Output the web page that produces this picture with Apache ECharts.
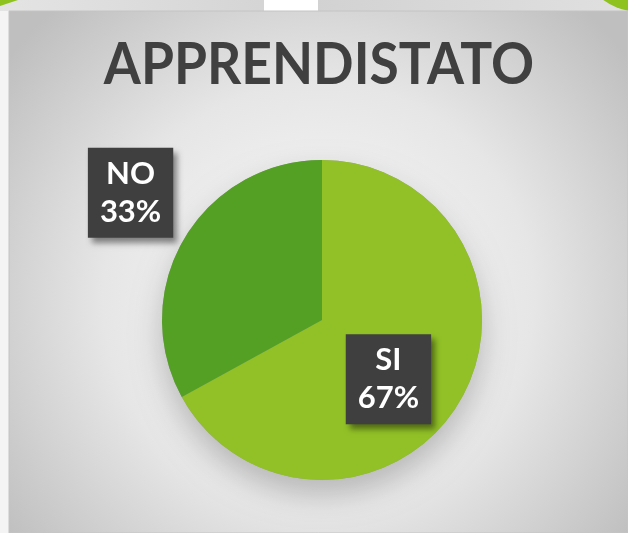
<!DOCTYPE html>
<html>
<head>
<meta charset="utf-8">
<script src="https://cdn.jsdelivr.net/npm/echarts@6/dist/echarts.min.js"></script>
<style>
  html, body { margin: 0; padding: 0; background: #f2f2f2; }
  #chart { width: 628px; height: 533px; }
</style>
</head>
<body>
<div id="chart"></div>
<script>
// dati del grafico
const titleText = "APPRENDISTATO";
const categories = ["SI", "NO"];
const values = [67, 33];
const sliceColors = ["#91C126", "#53A024"];

const labelOffsets = [[-5, 17], [-120, -85]];
const pieCenter = [322, 320];
const pieRadius = 160;

const myChart = echarts.init(document.getElementById("chart"));

const option = {
  animation: false,
  graphic: [
    // striscia superiore
    {
      type: "rect",
      shape: { x: 0, y: 0, width: 628, height: 11 },
      style: {
        fill: new echarts.graphic.LinearGradient(0, 0, 1, 0, [
          { offset: 0, color: "#e4e4e4" },
          { offset: 0.5, color: "#d2d2d2" },
          { offset: 1, color: "#e0e0e0" }
        ])
      },
      z: -10
    },
    { type: "rect", shape: { x: 264, y: 0, width: 54, height: 11 }, style: { fill: "#ffffff" }, z: -9 },
    // bordo sinistro
    { type: "rect", shape: { x: 0, y: 11, width: 9, height: 522 }, style: { fill: "#f4f4f4" }, z: -10 },
    // angoli verdi
    { type: "polygon", shape: { points: [[0, 0], [18, 0], [0, 6]] }, style: { fill: "#8DC21F" }, z: -8 },
    { type: "circle", shape: { cx: 640, cy: -50, r: 62 }, style: { fill: "#8DC21F" }, z: -8 },
    // pannello con sfumatura radiale
    {
      type: "rect",
      shape: { x: 9, y: 11, width: 619, height: 522 },
      style: {
        fill: new echarts.graphic.RadialGradient(0.5, 0.55, 0.75, [
          { offset: 0, color: "#fbfbfb" },
          { offset: 0.55, color: "#e6e6e6" },
          { offset: 1, color: "#bfbfbf" }
        ]),
        stroke: "#c4c4c4",
        lineWidth: 1
      },
      z: -7
    },
    // titolo (carattere stretto come nell'originale)
    {
      type: "text",
      x: 319,
      y: 65,
      scaleX: 0.92,
      style: {
        text: titleText,
        font: "bold 58px Lato",
        fill: "#404040",
        align: "center",
        verticalAlign: "middle"
      },
      z: 10
    }
  ],
  series: [
    // ombra morbida sotto la torta
    {
      type: "pie",
      center: pieCenter,
      radius: pieRadius,
      silent: true,
      label: { show: false },
      labelLine: { show: false },
      z: 1,
      data: [
        {
          value: 1,
          itemStyle: {
            color: "#9aa08f",
            shadowBlur: 30,
            shadowColor: "rgba(0,0,0,0.22)",
            shadowOffsetY: 14
          }
        }
      ]
    },
    {
      type: "pie",
      center: pieCenter,
      radius: pieRadius,
      startAngle: 90,
      clockwise: true,
      silent: true,
      z: 2,
      labelLine: { show: false },
      data: categories.map((name, i) => ({
        name,
        value: values[i],
        itemStyle: { color: sliceColors[i] },
        label: { offset: labelOffsets[i] }
      })),
      label: {
        show: true,
        position: "inside",
        formatter: "{b}\n{d}%",
        fontFamily: "Lato",
        fontSize: 31,
        fontWeight: "bold",
        lineHeight: 38,
        color: "#ffffff",
        align: "center",
        backgroundColor: "#3f3f3f",
        padding: [7, 12, 7, 12],
        textShadowColor: "transparent",
        textShadowBlur: 0,
        shadowColor: "rgba(0,0,0,0.45)",
        shadowBlur: 6,
        shadowOffsetX: 4,
        shadowOffsetY: 5
      }
    }
  ]
};

myChart.setOption(option);
</script>
</body>
</html>
